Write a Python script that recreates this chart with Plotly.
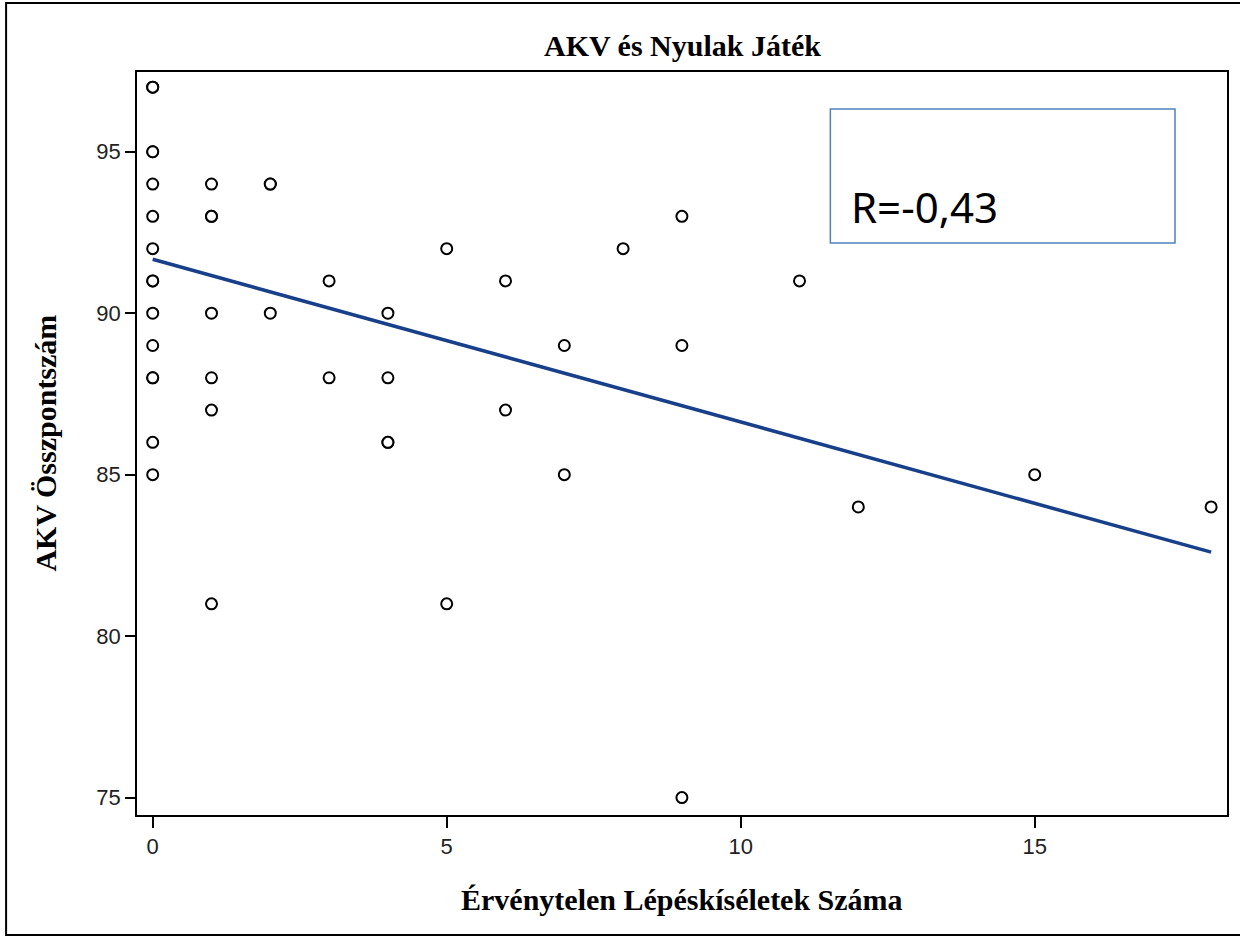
import plotly.graph_objects as go

# Data (duplicates drawn twice appear bolder)
invalid_moves = [0, 0, 0, 0, 0, 0, 0, 0, 0, 0, 0, 0, 0, 0, 0,
                 1, 1, 1, 1, 1, 1, 1,
                 2, 2, 2,
                 3, 3,
                 4, 4, 4, 4,
                 5, 5,
                 6, 6,
                 7, 7,
                 8,
                 9, 9, 9,
                 11, 12, 15, 18]
akv_score = [97, 97, 95, 95, 94, 93, 92, 91, 91, 90, 89, 88, 88, 86, 85,
             94, 93, 93, 90, 88, 87, 81,
             94, 94, 90,
             91, 88,
             90, 88, 86, 86,
             92, 81,
             91, 87,
             89, 85,
             92,
             93, 89, 75,
             91, 84, 85, 84]

fit_x = [0, 18]
fit_y = [91.67, 82.6]

x_ticks = [0, 5, 10, 15]
y_ticks = [75, 80, 85, 90, 95]

title_text = "AKV és Nyulak Játék"
x_title = "Érvénytelen Lépéskíséletek Száma"
y_title = "AKV Összpontszám"
r_text = "R=-0,43"

fig = go.Figure()
fig.add_trace(go.Scatter(
    x=fit_x, y=fit_y, mode="lines",
    line=dict(color="#173f8a", width=3.5),
    showlegend=False, hoverinfo="skip"))
fig.add_trace(go.Scatter(
    x=invalid_moves, y=akv_score, mode="markers",
    marker=dict(symbol="circle", size=11, color="white",
                line=dict(color="black", width=2)),
    showlegend=False))

tick_font = dict(family="Liberation Sans Narrow, Liberation Sans, Arial", size=22, color="#222")
serif_bold = dict(family="Liberation Serif, Times New Roman, serif", size=30, color="black", weight="bold")

fig.update_layout(
    width=1240, height=937,
    margin=dict(l=137, r=11, t=72, b=122),
    paper_bgcolor="white", plot_bgcolor="white",
    xaxis=dict(range=[-0.267, 18.27], tickvals=x_ticks, ticks="outside",
               ticklen=11, tickwidth=1.5, tickcolor="black",
               showline=True, mirror=True, linecolor="black", linewidth=1.5,
               showgrid=False, zeroline=False, tickfont=tick_font),
    yaxis=dict(range=[74.46, 97.47], tickvals=y_ticks, ticks="outside",
               ticklen=10, tickwidth=1.5, tickcolor="black",
               showline=True, mirror=True, linecolor="black", linewidth=1.5,
               showgrid=False, zeroline=False, tickfont=tick_font),
    shapes=[
        dict(type="rect", xref="paper", yref="paper",
             x0=0.6361, x1=0.9523, y0=0.7699, y1=0.9502,
             line=dict(color="#4f81bd", width=1.5), fillcolor="rgba(0,0,0,0)"),
        dict(type="rect", xref="paper", yref="paper",
             x0=-0.1201, x1=1.03, y0=-0.1615, y1=1.0929,
             line=dict(color="black", width=2), fillcolor="rgba(0,0,0,0)"),
    ],
    annotations=[
        dict(text=title_text, xref="paper", yref="paper", x=0.5, y=1.0363,
             xanchor="center", yanchor="middle", showarrow=False, font=serif_bold),
        dict(text=x_title, xref="paper", yref="paper", x=0.5, y=-0.1144,
             xanchor="center", yanchor="middle", showarrow=False, font=serif_bold),
        dict(text=y_title, xref="paper", yref="paper", x=-0.0843, y=0.5,
             xanchor="center", yanchor="middle", textangle=-90, showarrow=False,
             font=serif_bold),
        dict(text=r_text, xref="paper", yref="paper", x=0.6530, y=0.819,
             xanchor="left", yanchor="middle", showarrow=False,
             font=dict(family="Noto Sans, Open Sans, sans-serif", size=42, color="black")),
    ],
)

fig.write_html("out.html")
